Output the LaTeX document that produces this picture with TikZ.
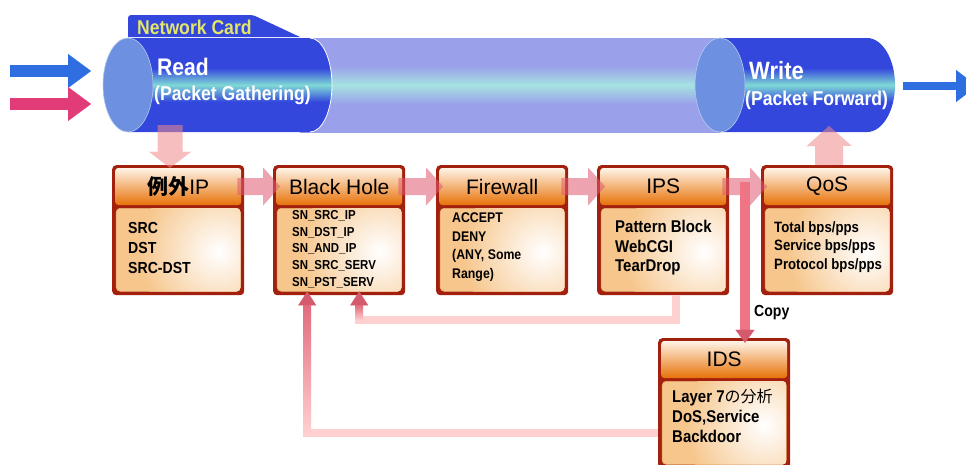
\documentclass[tikz,border=0pt]{standalone}
\usepackage{fontspec}
\setmainfont{Liberation Sans}
\newfontfamily\condb{Liberation Sans}[FakeStretch=0.88]
\newfontfamily\jp{Noto Sans CJK JP}
\usetikzlibrary{arrows.meta,calc}

% palette
\definecolor{tubeblue}{HTML}{3447DD}
\definecolor{tubecyan}{HTML}{7FD9D6}
\definecolor{lightblue}{HTML}{9AA1EA}
\definecolor{lightcyan}{HTML}{A6E2E2}
\definecolor{capblue}{HTML}{6E90E0}
\definecolor{capcyan}{HTML}{8EDFCF}
\definecolor{capedge}{HTML}{B4CCEE}
\definecolor{cardtext}{HTML}{E4E66A}
\definecolor{framered}{HTML}{A3200E}
\definecolor{headtop}{HTML}{FFF3E6}
\definecolor{headmid}{HTML}{F5B46A}
\definecolor{headbot}{HTML}{E77208}
\definecolor{peach}{HTML}{F6C68C}
\definecolor{peachedge}{HTML}{E8B070}
\definecolor{fatpink}{HTML}{E05A70}
\definecolor{softpink}{HTML}{F08A8A}
\definecolor{copypink}{HTML}{EF7585}
\definecolor{fblight}{HTML}{FFD0D0}
\definecolor{fbdark}{HTML}{E26C7E}
\definecolor{fbhead}{HTML}{D45A6E}
\definecolor{inblue}{HTML}{2E6EE0}
\definecolor{inpink}{HTML}{E13C78}

% tube body: dark blue with a narrow cyan band in the middle
\pgfdeclareverticalshading{tube}{100bp}{color(0bp)=(tubeblue); color(25bp)=(tubeblue);
  color(41bp)=(tubeblue); color(50bp)=(tubecyan); color(59bp)=(tubeblue);
  color(75bp)=(tubeblue); color(100bp)=(tubeblue)}
\pgfdeclareverticalshading{tubelight}{100bp}{color(0bp)=(lightblue); color(25bp)=(lightblue);
  color(40bp)=(lightblue); color(50bp)=(lightcyan); color(60bp)=(lightblue);
  color(75bp)=(lightblue); color(100bp)=(lightblue)}

\tikzset{
  boxframe/.style={fill=framered, rounded corners=4pt, minimum width=132pt,
    minimum height=130pt, inner sep=0pt},
  boxhead/.style={top color=headtop, middle color=headmid, bottom color=headbot,
    rounded corners=3pt, minimum width=126pt, minimum height=37pt, inner sep=0pt,
    font=\fontsize{21}{21}\selectfont},
  bodyarea/.style={fill=peach, draw=peachedge, line width=0.6pt, rounded corners=4pt,
    minimum width=124pt, minimum height=83pt, inner sep=0pt},
  item/.style 2 args={font=\condb\bfseries\fontsize{#1}{#2}\selectfont, align=left,
    anchor=west, inner sep=0pt},
  tubetext/.style={font=\condb\bfseries\fontsize{#1}{#1}\selectfont, text=white,
    anchor=west, inner sep=0pt},
  fatarrow/.style={draw=fatpink, line width=17pt,
    -{Triangle[width=38pt,length=17pt,line width=0.1pt]}},
  droparrow/.style={draw=softpink, line width=25pt,
    -{Triangle[width=42pt,length=16pt,line width=0.1pt]}},
  risearrow/.style={draw=softpink, line width=28pt,
    -{Triangle[width=45pt,length=20pt,line width=0.1pt]}},
  copyarrow/.style={draw=copypink, line width=10pt,
    -{Triangle[width=19pt,length=13pt,line width=0.1pt,color=fbhead]}},
  fbline/.style={draw=fblight, line width=8pt,
    -{Triangle[width=18pt,length=14pt,line width=0.1pt,color=fbhead]}},
  inarrow/.style={line width=12pt, -{Triangle[width=34pt,length=23pt,line width=0.1pt]}},
  outarrow/.style={draw=inblue, line width=8pt,
    -{Triangle[width=32pt,length=21pt,line width=0.1pt]}},
}

% one processing stage: red frame, orange title bar, peach body with a soft highlight
\newcommand\modbox[4]{%
  \node[boxframe, anchor=north west] (#1) at (#2,-#3) {};
  \node[boxhead] (#1-h) at ([yshift=-21.5pt]#1.north) {#4};
  \node[bodyarea, anchor=north] (#1-b) at ([yshift=-43pt]#1.north) {};
  \begin{scope}
    \clip[rounded corners=4pt] (#1-b.south west) rectangle (#1-b.north east);
    \shade[inner color=white, outer color=peach] ([xshift=-22pt,yshift=-2pt]#1-b.east) circle (80pt);
  \end{scope}
}

\begin{document}
\begin{tikzpicture}[x=1pt,y=1pt]
\useasboundingbox (0,0) rectangle (966,-464);
\fill[white] (0,0) rectangle (966,-464);

% ---- network card tube ----
\shade[shading=tubelight] (300,-38) rectangle (720,-132);
\shade[shading=tube] (128,-38) -- (310,-38)
  arc[start angle=90, end angle=-90, x radius=22, y radius=47] -- (128,-132) -- cycle;
\draw[white, line width=0.8pt] (310,-38) arc[start angle=90, end angle=-90, x radius=22, y radius=47];
\shade[shading=tube] (720,-38) -- (867,-38)
  arc[start angle=90, end angle=-90, x radius=28, y radius=47] -- (720,-132) -- cycle;
\shade[top color=capblue, middle color=capcyan, bottom color=capblue, draw=capedge, line width=0.6pt]
  (128,-85) ellipse[x radius=25, y radius=47];
\shade[top color=capblue, middle color=capcyan, bottom color=capblue, draw=capedge, line width=0.6pt]
  (720,-85) ellipse[x radius=25, y radius=47];
\fill[tubeblue] (128,-37) [rounded corners=3pt] -- (128,-15) -- (253,-15)
  [sharp corners] -- (300,-37) -- cycle;

\node[font=\condb\bfseries\fontsize{20}{20}\selectfont, text=cardtext, anchor=west, inner sep=0pt]
  (cardlbl) at (137,-27) {Network Card};
\node[tubetext=24] (readlbl) at (157,-67) {Read};
\node[tubetext=20] (readsub) at (154,-95) {(Packet Gathering)};
\node[tubetext=25] (writelbl) at (749,-71) {Write};
\node[tubetext=20] (writesub) at (745,-100) {(Packet Forward)};

% ---- incoming and outgoing traffic ----
\coordinate (inA0) at (10,-71);  \coordinate (inA1) at (91,-71);
\coordinate (inB0) at (10,-104); \coordinate (inB1) at (91,-104);
\coordinate (out0) at (903,-86); \coordinate (out1) at (977,-86);
\draw[inarrow, draw=inblue, fill=inblue] (inA0) -- (inA1);
\draw[inarrow, draw=inpink, fill=inpink] (inB0) -- (inB1);
\draw[outarrow, fill=inblue] (out0) -- (out1);

% ---- stages ----
\modbox{exc}{112}{165}{{\jp\bfseries 例外}IP}
\modbox{bh}{273}{165}{Black Hole}
\modbox{fw}{436}{165}{Firewall}
\modbox{ips}{597}{165}{IPS}
\modbox{qos}{761}{165}{QoS}
\modbox{ids}{658}{338}{IDS}

\node[item={16}{20}] (exc-t) at (128,-248) {SRC\\DST\\SRC-DST};
\node[item={13}{16.7}] (bh-t) at (292,-249) {SN\_SRC\_IP\\SN\_DST\_IP\\SN\_AND\_IP\\SN\_SRC\_SERV\\SN\_PST\_SERV};
\node[item={14}{18.5}] (fw-t) at (452,-247) {ACCEPT\\DENY\\(ANY, Some\\Range)};
\node[item={17}{19.5}] (ips-t) at (615,-248) {Pattern Block\\WebCGI\\TearDrop};
\node[item={15}{18.5}] (qos-t) at (774,-247) {Total bps/pps\\Service bps/pps\\Protocol bps/pps};
\node[item={17}{20}] (ids-t) at (672,-416)
  {Layer 7{\jp\mdseries\fontsize{16}{20}\selectfont の分析}\\DoS,Service\\Backdoor};

% ---- packet flow between stages ----
\coordinate (rdout) at (170,-125);
\coordinate (wrin) at (829,-126);
\begin{scope}[transparency group, opacity=0.55]
  \draw[droparrow] (rdout) -- (rdout |- exc-h.north);
  \draw[fatarrow] ([xshift=-4pt]exc-h.east) -- ([xshift=4pt]bh-h.west);
  \draw[fatarrow] ([xshift=-4pt]bh-h.east) -- ([xshift=4pt]fw-h.west);
  \draw[fatarrow] ([xshift=-4pt]fw-h.east) -- ([xshift=5pt]ips-h.west);
  \draw[fatarrow] ([xshift=-4pt]ips-h.east) -- ([xshift=3pt]qos-h.west);
  \draw[risearrow] ([xshift=2pt]qos.north) -- (wrin);
\end{scope}

% copy to IDS
\coordinate (cp) at (745,-182);
\draw[copyarrow] (cp) -- ([yshift=-2pt]cp |- ids-h.north);
\node[font=\condb\bfseries\fontsize{16}{16}\selectfont, anchor=west, inner sep=0pt]
  (copylbl) at (754,-313) {Copy};

% feedback from IPS and IDS into Black Hole
\coordinate (ipsfb) at ([xshift=13pt]ips.south);
\coordinate (ipsturn) at ([yshift=-25pt]ipsfb);
\coordinate (bhin1) at ([xshift=20pt,yshift=4pt]bh.south);
\coordinate (idsfb) at ([yshift=-30pt]ids.west);
\coordinate (bhin2) at ([xshift=-32pt,yshift=4pt]bh.south);
\draw[fbline] (ipsfb) -- (ipsturn) -| (bhin1);
\shade[bottom color=fblight, top color=fbdark] ($(ipsturn -| bhin1)+(-4,0)$) rectangle ($(bhin1)+(4,-14)$);
\draw[fbline] (idsfb) -| (bhin2);
\shade[bottom color=fblight, top color=fbdark] ($(idsfb -| bhin2)+(-4,0)$) rectangle ($(bhin2)+(4,-14)$);
\end{tikzpicture}
\end{document}
